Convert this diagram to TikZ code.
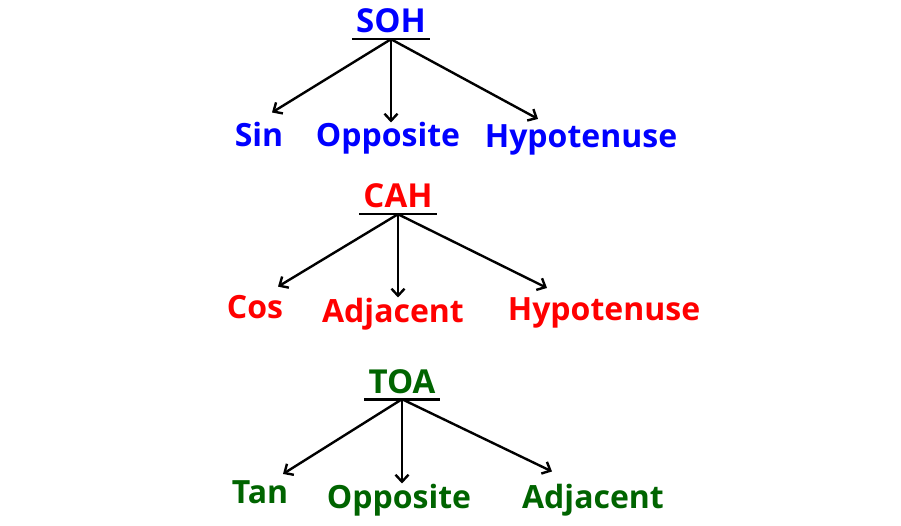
\documentclass[tikz,border=0pt]{standalone}
\usepackage{fontspec}
\setmainfont{Open Sans}
\usepackage{xcolor}
\usepackage{tikz}
\usetikzlibrary{arrows.meta,positioning}
\definecolor{sohblue}{RGB}{0,0,255}
\definecolor{cahred}{RGB}{255,0,0}
\definecolor{toagreen}{RGB}{0,100,0}

\begin{document}
\begin{tikzpicture}[x=1pt, y=-1pt,
        title/.style={font=\fontsize{33}{36}\selectfont\bfseries, anchor=base, inner xsep=4pt, inner ysep=6pt, text depth=0pt},
        word/.style={font=\fontsize{32}{36}\selectfont\bfseries, anchor=base, inner sep=0pt},
        arrow/.style={-{Straight Barb[length=7pt, width=13pt]}, line width=2.4pt, black},
        underline/.style={line width=2.6pt, black}
    ]
    \useasboundingbox (0,0) rectangle (901,526);

    % SOH (top)
    \node[title, text=sohblue] (soh) at (391,33) {SOH};
    \node[word, text=sohblue] (sin) at (259,147) {Sin};
    \node[word, text=sohblue] (soh_opp) at (388,147) {Opposite};
    \node[word, text=sohblue] (soh_hyp) at (581,148) {Hypotenuse};
    \draw[underline] (soh.south west) -- (soh.south east);
    \draw[arrow] (soh.south) -- ([shift={(13pt,10pt)}]sin.north);
    \draw[arrow] (soh.south) -- (soh.south |- soh_opp.north);
    \draw[arrow] (soh.south) -- ([shift={(-43pt,6pt)}]soh_hyp.north);

    % CAH (middle)
    \node[title, text=cahred] (cah) at (398,208) {CAH};
    \node[word, text=cahred] (cos) at (255,318) {Cos};
    \node[word, text=cahred] (cah_adj) at (393,322) {Adjacent};
    \node[word, text=cahred] (cah_hyp) at (604,320) {Hypotenuse};
    \draw[underline] (cah.south west) -- (cah.south east);
    \draw[arrow] (cah.south) -- ([shift={(23pt,8pt)}]cos.north);
    \draw[arrow] (cah.south) -- (cah.south |- cah_adj.north);
    \draw[arrow] (cah.south) -- ([shift={(-57pt,9pt)}]cah_hyp.north);

    % TOA (bottom)
    \node[title, text=toagreen] (toa) at (402,393) {TOA};
    \node[word, text=toagreen] (tan) at (260,503) {Tan};
    \node[word, text=toagreen] (toa_opp) at (399,508) {Opposite};
    \node[word, text=toagreen] (toa_adj) at (593,508) {Adjacent};
    \draw[underline] (toa.south west) -- (toa.south east);
    \draw[arrow] (toa.south) -- ([shift={(23pt,6pt)}]tan.north);
    \draw[arrow] (toa.south) -- (toa.south |- toa_opp.north);
    \draw[arrow] (toa.south) -- ([shift={(-41pt,12pt)}]toa_adj.north);

\end{tikzpicture}
\end{document}
